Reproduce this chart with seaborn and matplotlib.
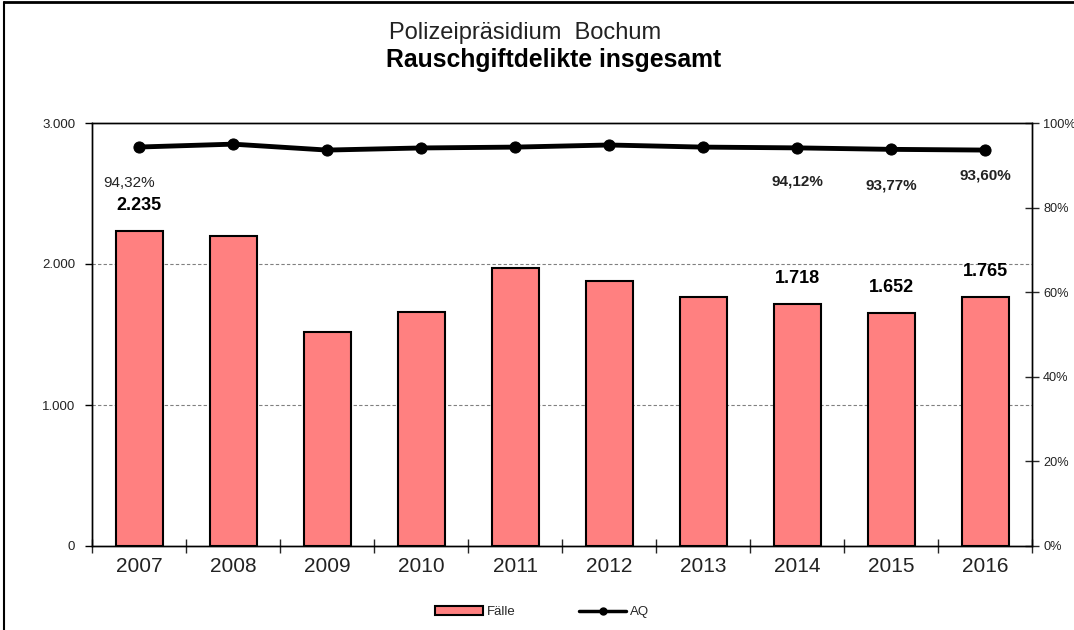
import numpy as np
import pandas as pd
import matplotlib
matplotlib.use("Agg")
import matplotlib.pyplot as plt
import seaborn as sns
from matplotlib.ticker import FuncFormatter, FixedLocator
from matplotlib.patches import Patch
from matplotlib.lines import Line2D

years = ["2007", "2008", "2009", "2010", "2011", "2012", "2013", "2014", "2015", "2016"]
faelle = [2235, 2200, 1518, 1660, 1972, 1879, 1766, 1718, 1652, 1765]
aq = [94.32, 95.0, 93.6, 94.1, 94.3, 94.8, 94.3, 94.12, 93.77, 93.60]
bar_label_years = ["2007", "2014", "2015", "2016"]
aq_label_years = ["2007", "2014", "2015", "2016"]

sns.set_theme(style="white")
plt.rcParams['font.family'] = ['Liberation Sans', 'DejaVu Sans']

df = pd.DataFrame({"Jahr": years, "Fälle": faelle, "AQ": aq})

fig = plt.figure(figsize=(10.74, 6.3), dpi=100)
ax = fig.add_axes([92/1074, 84/630, (1032-92)/1074, (546-123)/630])

sns.barplot(data=df, x="Jahr", y="Fälle", color="#FF8080", edgecolor="black",
            linewidth=1.5, width=0.5, saturation=1, ax=ax, zorder=3)
ax.set_ylim(0, 3000)
ax.set_xlim(-0.5, len(years) - 0.5)
ax.yaxis.set_major_locator(FixedLocator([0, 1000, 2000, 3000]))
ax.yaxis.set_major_formatter(FuncFormatter(lambda v, p: f"{int(v):,}".replace(",", ".")))
for yv in [1000, 2000]:
    ax.axhline(yv, color="#808080", lw=0.8, ls=(0, (3, 2)), zorder=1)
ax.set_xlabel("")
ax.set_ylabel("")
for s in ax.spines.values():
    s.set_color("black")
    s.set_linewidth(1.0)
ax.tick_params(axis="y", which="major", direction="out", length=5, width=1,
               left=True, labelsize=9.5, colors="black", pad=7)
ax.tick_params(axis="x", which="major", length=0, labelsize=15, pad=8)
ax.set_xticks(np.arange(-0.5, len(years), 1.0), minor=True)
ax.tick_params(axis="x", which="minor", direction="inout", length=10, width=1, bottom=True)
for lbl in ax.get_yticklabels() + ax.get_xticklabels():
    lbl.set_color("#222222")

ax2 = ax.twinx()
sns.lineplot(x=np.arange(len(years)), y=df["AQ"], ax=ax2, color="black", lw=3.5,
             marker="o", markersize=8, markeredgecolor="black", zorder=5)
ax2.set_ylim(0, 100)
ax2.set_ylabel("")
ax2.yaxis.set_major_locator(FixedLocator([0, 20, 40, 60, 80, 100]))
ax2.yaxis.set_major_formatter(FuncFormatter(lambda v, p: f"{int(v)}%"))
ax2.tick_params(axis="y", direction="inout", length=10, width=1, right=True,
                labelsize=9.2, pad=3)
for lbl in ax2.get_yticklabels():
    lbl.set_color("#222222")
ax2.grid(False)
for s in ax2.spines.values():
    s.set_color("black")
    s.set_linewidth(1.0)

# bar labels
for i, y in enumerate(years):
    if y in bar_label_years:
        ax.annotate(f"{faelle[i]:,}".replace(",", "."), (i, faelle[i]),
                    xytext=(0, 12), textcoords="offset points", ha="center",
                    va="bottom", fontsize=13, fontweight="bold", color="black")
# AQ labels
aq_offsets = {"2007": (-7, -26, "normal"), "2014": (0, -24, "bold"),
              "2015": (0, -26, "bold"), "2016": (0, -18, "bold")}
for i, y in enumerate(years):
    if y in aq_label_years:
        dx, dy, fw = aq_offsets[y]
        ax2.annotate(f"{aq[i]:.2f}%".replace(".", ","), (i, aq[i]),
                     xytext=(dx, dy), textcoords="offset points", ha="center",
                     va="center", fontsize=11, fontweight=fw, color="#222222")

fig.text(525/1074, 1 - 33/630, "Polizeipräsidium  Bochum", ha="center", va="center",
         fontsize=17, color="#222222")
fig.text(554/1074, 1 - 60/630, "Rauschgiftdelikte insgesamt", ha="center", va="center",
         fontsize=17.8, fontweight="bold", color="black")

handles = [Patch(facecolor="#FF8080", edgecolor="black", linewidth=1.5),
           Line2D([0], [0], color="black", lw=2.5, marker="o", markersize=5)]
fig.legend(handles, ["Fälle", "AQ"], loc="center", bbox_to_anchor=(0.505, 1 - 612/630),
           ncol=2, frameon=False, fontsize=9.5, handlelength=3.6, handleheight=0.7,
           columnspacing=4.8, handletextpad=0.3)

# outer frame lines (top and left)
fig.add_artist(Line2D([0.004, 1], [1 - 2/630, 1 - 2/630], color="black", lw=2, transform=fig.transFigure))
fig.add_artist(Line2D([0.004, 0.004], [0, 1 - 2/630], color="black", lw=1.5, transform=fig.transFigure))

fig.savefig("out.png", dpi=100)
